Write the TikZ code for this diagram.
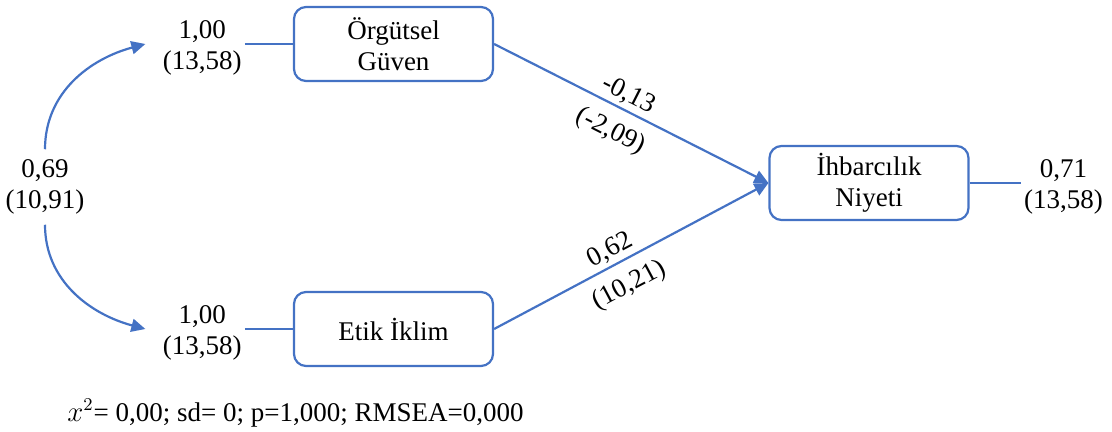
\documentclass[tikz,border=0pt]{standalone}
\usepackage{fontspec}
\setmainfont{Liberation Serif}
\usepackage{tikz}
\usetikzlibrary{arrows.meta, positioning}
\definecolor{myblue}{RGB}{68,114,196}
\tikzset{
  block/.style={rectangle, draw=myblue, fill=white,
    minimum width=99.5pt, minimum height=37pt, align=center,
    font=\fontsize{13.5}{15.5}\selectfont, rounded corners=6pt, line width=1.1pt},
  est/.style={align=center, inner sep=1.5pt, text=black,
    font=\fontsize{13.5}{15.5}\selectfont},
  varest/.style={est, yshift=-2pt},
  arrow/.style={-{Triangle[length=7pt,width=6.5pt]}, line width=1.1pt, color=myblue},
  line/.style={line width=1.1pt, color=myblue}
}

\begin{document}
\begin{tikzpicture}[x=0.5pt, y=-0.5pt, node distance=24pt]
  \useasboundingbox (0,0) rectangle (1112,432);

  % Variables
  \node[block] (og) at (393.5,44) {Örgütsel\\Güven};
  \node[block] (ei) at (393.5,329) {Etik İklim};
  \node[block] (ihb) at (869,183) {İhbarcılık\\Niyeti};

  % Variances
  \node[varest, left=of og] (vog) {1,00\\(13,58)};
  \node[varest, left=of ei] (vei) {1,00\\(13,58)};
  \node[varest, right=25.5pt of ihb] (vihb) {0,71\\(13,58)};
  \node[varest, inner ysep=5pt] (cov) at (45,183) {0,69\\(10,91)};

  % Fit indices
  \node[est, anchor=base west] (fit) at (64,421) {$x^2$= 0,00; sd= 0; p=1,000; RMSEA=0,000};

  % Connective paths
  \draw[line] (vog.east |- og.west) -- (og.west);
  \draw[line] (vei.east |- ei.west) -- (ei.west);
  \draw[line] (ihb.east) -- (vihb.west |- ihb.east);
  \draw[arrow] (cov.north) to[out=90, in=195] ([xshift=-7pt]vog.west |- og.west);
  \draw[arrow] (cov.south) to[out=-90, in=165] ([xshift=-7pt]vei.west |- ei.west);
  \draw[arrow] (og.east) -- (ihb.west)
    node[est, pos=0.465, sloped, above] {-0,13}
    node[est, pos=0.465, sloped, below=4.5pt] {(-2,09)};
  \draw[arrow] (ei.east) -- (ihb.west)
    node[est, pos=0.45, sloped, above] {0,62}
    node[est, pos=0.45, sloped, below=4.5pt] {(10,21)};
\end{tikzpicture}
\end{document}
